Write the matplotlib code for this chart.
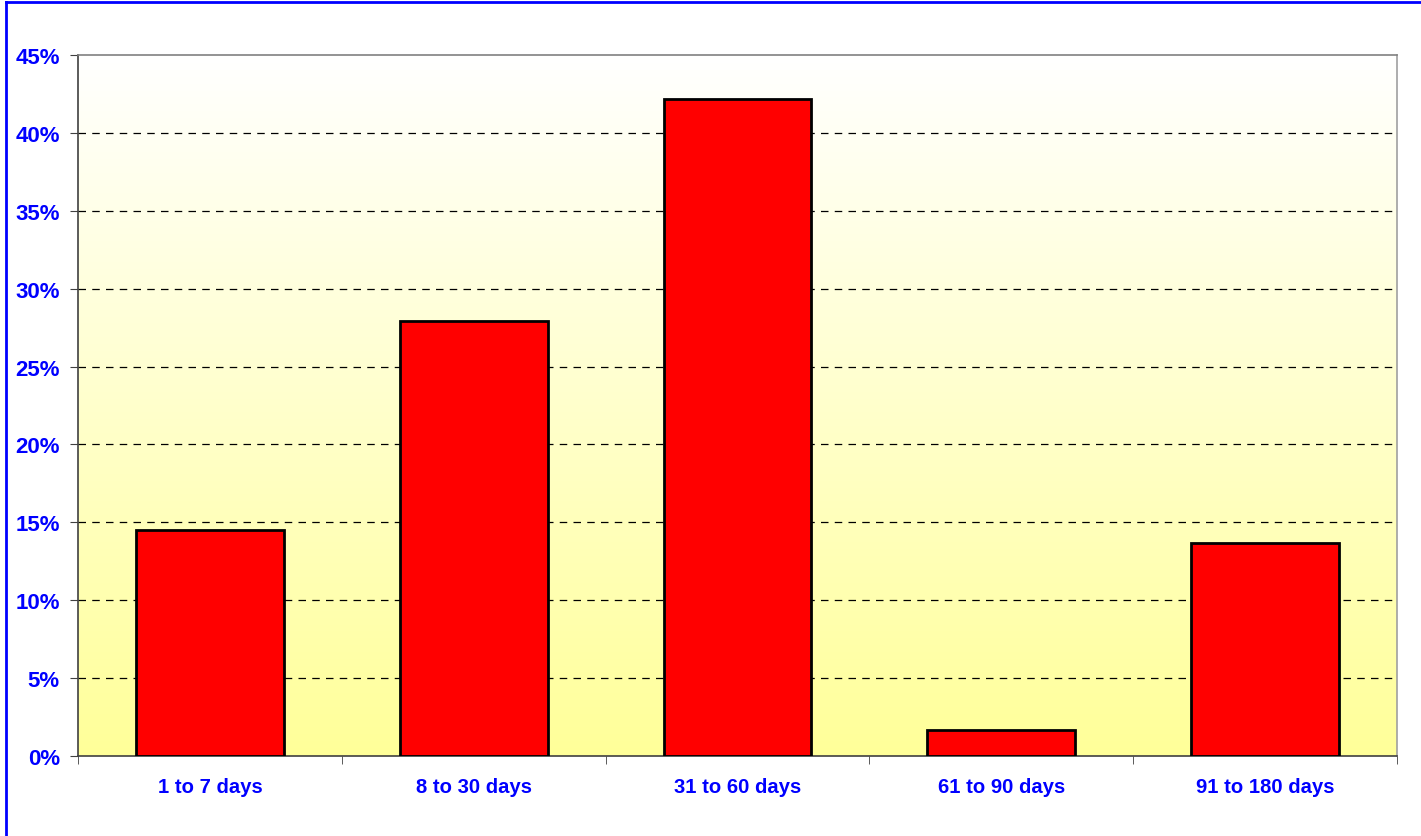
import numpy as np
import matplotlib
matplotlib.use("Agg")
import matplotlib.pyplot as plt
from matplotlib.colors import LinearSegmentedColormap
from matplotlib.lines import Line2D
from matplotlib.ticker import FixedLocator

categories = ["1 to 7 days", "8 to 30 days", "31 to 60 days", "61 to 90 days", "91 to 180 days"]
values = [14.5, 27.9, 42.2, 1.7, 13.7]
y_ticks = [0, 5, 10, 15, 20, 25, 30, 35, 40, 45]
y_labels = ["0%", "5%", "10%", "15%", "20%", "25%", "30%", "35%", "40%", "45%"]

plt.rcParams['font.family'] = ['Liberation Sans', 'DejaVu Sans']

fig = plt.figure(figsize=(14.21, 8.37), dpi=100)
ax = fig.add_axes([78/1421, 1 - 757/837, (1397-78)/1421, (757-56)/837])

# background gradient white (top) -> light yellow (bottom)
cmap = LinearSegmentedColormap.from_list("bg", ["#ffffff", "#ffff99"])
grad = np.linspace(0, 1, 256).reshape(-1, 1)
ax.imshow(grad, cmap=cmap, aspect="auto", extent=[-0.5, 4.5, 0, 45], origin="upper", zorder=0)

x = np.arange(len(categories))
ax.bar(x, values, width=0.56, color="#ff0000", edgecolor="black", linewidth=2, zorder=3)

ax.set_xlim(-0.5, 4.5)
ax.set_ylim(0, 45)
ax.set_yticks(y_ticks)
ax.set_yticklabels(y_labels)
for t in y_ticks[1:-1]:
    ax.axhline(t, color="black", linestyle=(0, (6, 5)), linewidth=0.9, zorder=1)

ax.set_xticks(x)
ax.set_xticklabels(categories)
ax.xaxis.set_minor_locator(FixedLocator(np.arange(-0.5, 5, 1)))
ax.tick_params(axis="x", which="major", length=0, pad=15)
ax.tick_params(axis="x", which="minor", length=6, color="#404040")
ax.tick_params(axis="y", length=6, color="#404040", pad=7)
for lab in ax.get_xticklabels():
    lab.set_color("#0000ff")
    lab.set_fontweight("bold")
    lab.set_fontsize(14.6)
for lab in ax.get_yticklabels():
    lab.set_color("#0000ff")
    lab.set_fontweight("bold")
    lab.set_fontsize(16)

ax.spines["left"].set_color("#404040")
ax.spines["bottom"].set_color("#404040")
ax.spines["top"].set_color("#808080")
ax.spines["right"].set_color("#a0a0a0")
for s in ax.spines.values():
    s.set_linewidth(1.2)

# blue frame only on the left and top edges
fx, fy = 5.5/1421, 1 - 2.5/837
fig.add_artist(Line2D([fx, fx], [0, fy], transform=fig.transFigure, color="#0000ff", linewidth=2))
fig.add_artist(Line2D([fx, 1], [fy, fy], transform=fig.transFigure, color="#0000ff", linewidth=2))

fig.savefig("out.png", dpi=100)
